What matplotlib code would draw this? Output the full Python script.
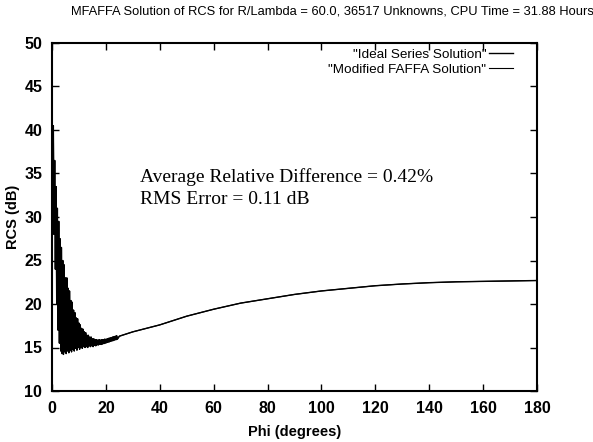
import numpy as np
import matplotlib
matplotlib.use('Agg')
import matplotlib.pyplot as plt

# Rapid oscillations near phi = 0, peaks at 0, 0.5, ... 24 and troughs at 0.25, 0.75, ... 24.25
osc_peaks = [42.0, 40.5, 36.5, 33.5, 31.0, 29.5, 27.5, 26.5, 25.0, 24.5,
             23.0, 23.0, 21.8, 21.5, 20.4, 20.2, 19.3, 19.0, 18.4, 18.3,
             17.8, 17.6, 17.2, 17.1, 16.8, 16.7, 16.4, 16.4, 16.2, 16.2,
             16.0, 16.0, 15.9, 15.9, 15.85, 15.9, 15.85, 15.9, 15.9, 15.95,
             15.95, 16.0, 16.05, 16.1, 16.15, 16.2, 16.25, 16.3, 16.35]
osc_troughs = [33.0, 28.0, 24.0, 20.0, 17.0, 15.5, 14.6, 14.3, 14.2, 14.5,
               14.3, 14.6, 14.4, 14.7, 14.5, 14.8, 14.6, 14.9, 14.7, 15.0,
               14.8, 15.0, 14.9, 15.1, 15.0, 15.1, 15.0, 15.2, 15.1, 15.2,
               15.1, 15.25, 15.2, 15.3, 15.3, 15.35, 15.35, 15.4, 15.45, 15.5,
               15.55, 15.6, 15.65, 15.7, 15.75, 15.8, 15.85, 15.9, 15.95]

# Smooth part of the pattern
smooth_phi = [25, 30, 35, 40, 50, 60, 70, 80, 90, 100, 110, 120, 130, 140,
              150, 160, 170, 180]
smooth_rcs = [16.3, 16.8, 17.2, 17.6, 18.6, 19.4, 20.1, 20.6, 21.1, 21.5,
              21.8, 22.1, 22.3, 22.45, 22.55, 22.6, 22.65, 22.7]

# interleave peaks and troughs
osc_phi = np.ravel(np.column_stack([np.arange(len(osc_peaks)) * 0.5,
                                    np.arange(len(osc_troughs)) * 0.5 + 0.25]))
osc_rcs = np.ravel(np.column_stack([osc_peaks, osc_troughs]))

phi = np.concatenate([osc_phi, smooth_phi])
ideal_rcs = np.concatenate([osc_rcs, smooth_rcs])
faffa_rcs = ideal_rcs.copy()

sans = 'Liberation Sans'
serif = 'Liberation Serif'

fig = plt.figure(figsize=(5.93, 4.42), dpi=100)
ax = fig.add_axes([52 / 593, 1 - 391 / 442, (537 - 52) / 593, (391 - 43) / 442])

ax.plot(phi, ideal_rcs, color='black', lw=1.0, label='"Ideal Series Solution"')
ax.plot(phi, faffa_rcs, color='black', lw=0.8, label='"Modified FAFFA Solution"')

ax.set_xlim(0, 180)
ax.set_ylim(10, 50)
ax.set_xticks(range(0, 181, 20))
ax.set_yticks(range(10, 51, 5))
ax.tick_params(direction='in', length=5, width=1, top=True, right=True,
               labelsize=11.5, pad=7)
for lab in ax.get_xticklabels() + ax.get_yticklabels():
    lab.set_fontfamily(sans)
    lab.set_fontweight('bold')
for sp in ax.spines.values():
    sp.set_linewidth(1.5)

ax.set_xlabel('Phi (degrees)', fontfamily=sans, fontsize=10.5, fontweight='bold',
              labelpad=7)
ax.set_ylabel('RCS (dB)', fontfamily=sans, fontsize=10.5, fontweight='bold',
              labelpad=3)

fig.text(332 / 593, 1 - 12 / 442, 'MFAFFA Solution of RCS for R/Lambda = 60.0, '
         '36517 Unknowns, CPU Time = 31.88 Hours', ha='center', va='center',
         fontfamily=sans, fontsize=9.3)

ax.text(0.182, 0.583, 'Average Relative Difference = 0.42%\nRMS Error = 0.11 dB',
        transform=ax.transAxes, fontfamily=serif, fontsize=14,
        va='center', ha='left', linespacing=1.4)

leg = ax.legend(loc='upper right', markerfirst=False, frameon=False,
                bbox_to_anchor=(0.976, 1.02), handlelength=1.8, handletextpad=0.2,
                labelspacing=0.2, prop={'family': sans, 'size': 9.7})

fig.savefig('out.png', dpi=100)
